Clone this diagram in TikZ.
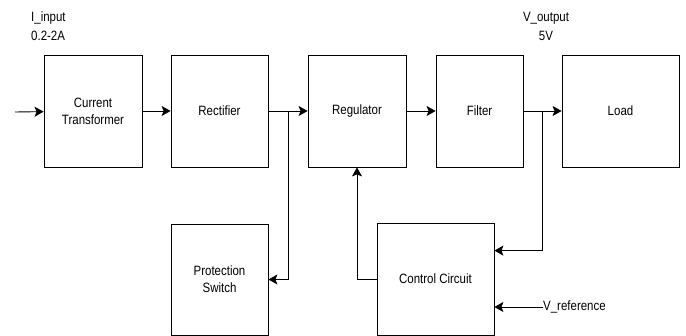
\documentclass[tikz,border=0pt]{standalone}
\usepackage{fontspec}
\setmainfont{Liberation Sans}[FakeStretch=0.85]
\usetikzlibrary{arrows.meta}

\tikzset{
    block/.style={draw = black, line width = 0.8pt, align = center, minimum height = 112pt,
        inner sep = 0pt, font = \fontsize{13.5}{17}\selectfont},
    tag/.style={align = left, inner sep = 0pt, font = \fontsize{13.5}{19}\selectfont},
    wire/.style={color = black, line width = 0.9pt, -{Stealth[length = 9pt, width = 10pt, inset = 2pt]}}
}

\begin{document}
\begin{tikzpicture}[x=1pt, y=-1pt]
        \useasboundingbox (0,0) rectangle (686,336);
        % blocks in the main row
        \node[block, minimum width = 98pt] (ct) at (93,111) {Current\\Transformer};
        \node[block, minimum width = 97pt] (rect) at (219.5,111) {Rectifier};
        \node[block, minimum width = 98pt] (reg) at (357,111) {Regulator};
        \node[block, minimum width = 87pt] (filt) at (479.5,111) {Filter};
        \node[block, minimum width = 117pt] (load) at (620.5,111) {Load};
        % blocks below
        \node[block, minimum width = 97pt, minimum height = 111pt] (prot) at (219.5,279.5) {Protection\\Switch};
        \node[block, minimum width = 117pt] (ctrl) at (435.5,279) {Control Circuit};
        % labels
        \node[tag, anchor = north west] (iin) at (31,12) {I\_input\\0.2-2A};
        \node[tag, anchor = north, align = center] (vout) at (546,12) {V\_output\\5V};
        \node[tag, anchor = west] (vref) at (543,307) {V\_reference};
        % junctions
        \coordinate (in) at (15,112);
        \coordinate (j1) at (288,112);
        \coordinate (j2) at (542,112);
        % connectors
        \draw[wire] (in) -- (ct);
        \draw[wire] (ct) -- (rect);
        \draw[wire] (rect) -- (reg);
        \draw[wire] (reg) -- (filt);
        \draw[wire] (filt) -- (load);
        \draw[wire] (j1) |- (prot.east);
        \draw[wire] (j2) |- ([yshift=-28pt]ctrl.north east);
        \draw[wire] (ctrl.west) -| (reg.south);
        \draw[wire] (vref.west) -- (ctrl.east |- vref.west);
\end{tikzpicture}
\end{document}
